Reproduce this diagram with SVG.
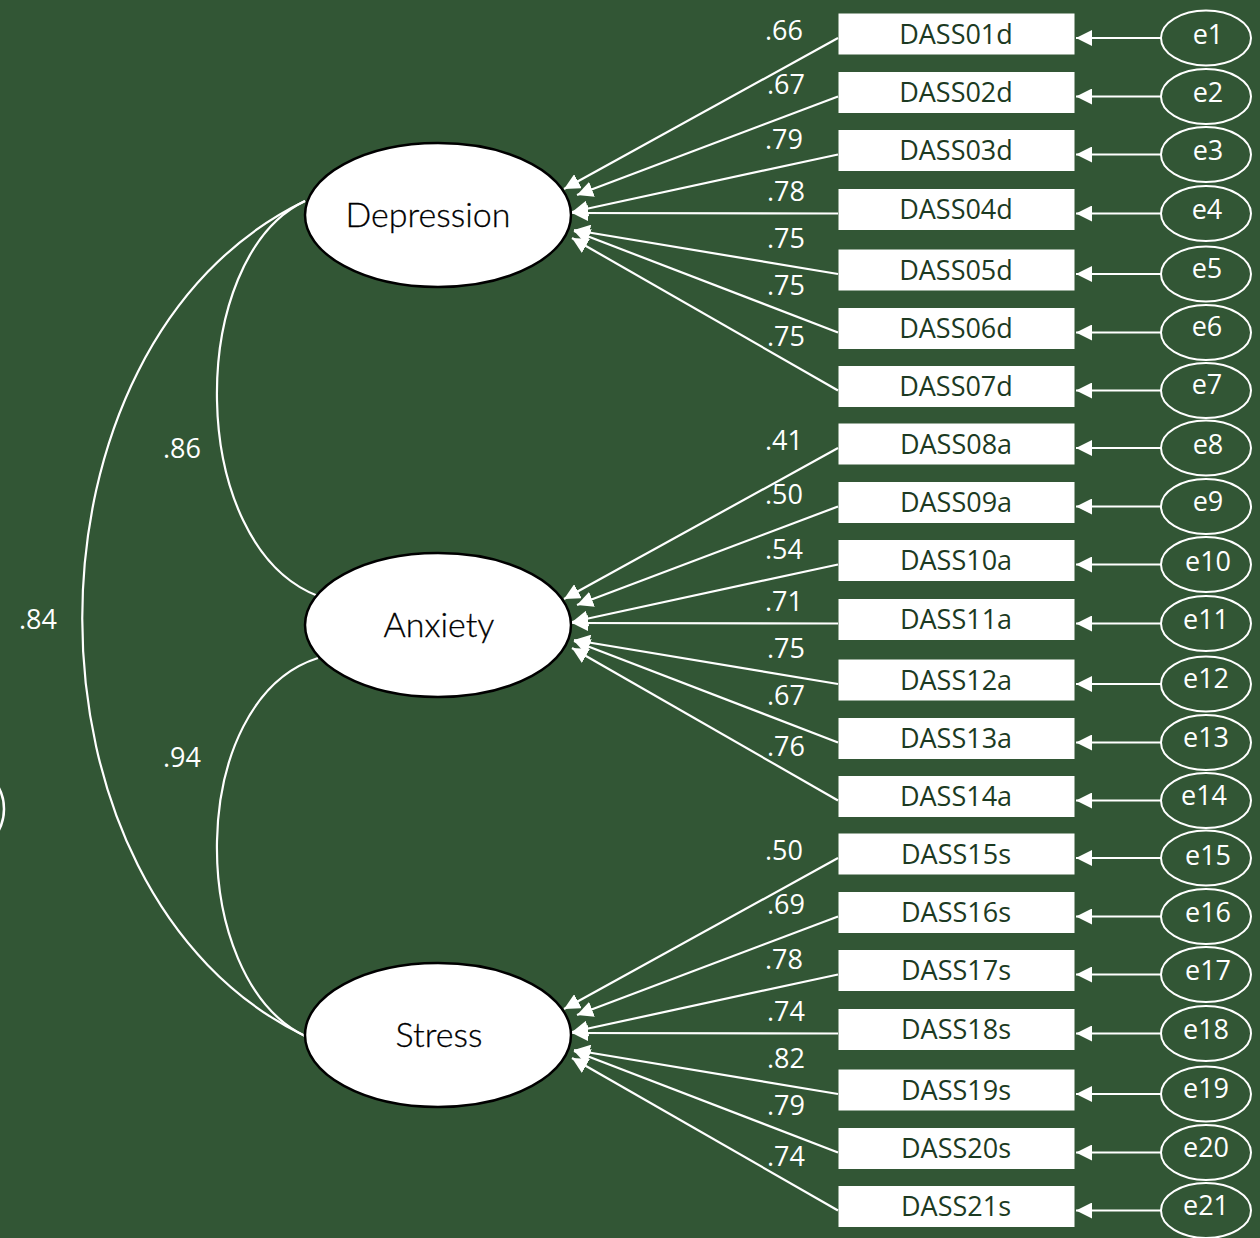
<svg xmlns="http://www.w3.org/2000/svg" width="1260" height="1238" viewBox="0 0 1260 1238">
<defs>
<marker id="ah" markerUnits="userSpaceOnUse" markerWidth="18" markerHeight="16" refX="16" refY="8" orient="auto"><path d="M0,0 L16,8 L0,16 z" fill="#fff"/></marker>
<style>
.bg{fill:#325635}
.box{fill:#fff}
.bt{font-family:"Open Sans","Liberation Sans",sans-serif;font-size:27px;fill:#1c3a22;text-anchor:middle}
.et{font-family:"Open Sans","Liberation Sans",sans-serif;font-size:27px;fill:#fff;text-anchor:middle}
.err{fill:none;stroke:#fff;stroke-width:2}
.lat{fill:#fff;stroke:#000;stroke-width:2.5}
.lt{font-family:Lato,"Liberation Sans",sans-serif;font-weight:300;font-size:34px;fill:#000;stroke:#000;stroke-width:0.3;text-anchor:middle}
.num{font-family:"Open Sans","Liberation Sans",sans-serif;font-size:27px;fill:#fff;text-anchor:middle}
.ln{stroke:#fff;stroke-width:2.2;fill:none}
.arr{stroke:#fff;stroke-width:2.2;fill:none;marker-end:url(#ah)}
</style>
</defs>
<rect class="bg" x="0" y="0" width="1260" height="1238"/>
<circle cx="-41" cy="809" r="45" fill="none" stroke="#fff" stroke-width="2.5"/>

<g id="connectors">
<path class="ln" d="M305,201 C185.5,258 185.5,544.5 318,596"/>
<path class="ln" d="M318,658 C185.5,700 185.5,978 305,1036"/>
<path class="ln" d="M305,201 C8,344 8,893 305,1036"/>
<!-- Depression loadings -->
<line class="arr" x1="838" y1="38" x2="564" y2="189"/>
<line class="arr" x1="838" y1="96.5" x2="577" y2="195"/>
<line class="arr" x1="838" y1="154.5" x2="572" y2="212"/>
<line class="arr" x1="838" y1="213.5" x2="572" y2="213"/>
<line class="arr" x1="838" y1="274" x2="574" y2="230"/>
<line class="arr" x1="838" y1="332.5" x2="574" y2="231"/>
<line class="arr" x1="838" y1="390.5" x2="572" y2="238"/>
<!-- Anxiety loadings -->
<line class="arr" x1="838" y1="448" x2="564" y2="599"/>
<line class="arr" x1="838" y1="506.5" x2="577" y2="605"/>
<line class="arr" x1="838" y1="564.5" x2="572" y2="622"/>
<line class="arr" x1="838" y1="623.5" x2="572" y2="623"/>
<line class="arr" x1="838" y1="684" x2="574" y2="640"/>
<line class="arr" x1="838" y1="742.5" x2="574" y2="641"/>
<line class="arr" x1="838" y1="800.5" x2="572" y2="648"/>
<!-- Stress loadings -->
<line class="arr" x1="838" y1="858" x2="564" y2="1009"/>
<line class="arr" x1="838" y1="916.5" x2="577" y2="1015"/>
<line class="arr" x1="838" y1="974.5" x2="572" y2="1032"/>
<line class="arr" x1="838" y1="1033.5" x2="572" y2="1033"/>
<line class="arr" x1="838" y1="1094" x2="574" y2="1050"/>
<line class="arr" x1="838" y1="1152.5" x2="574" y2="1051"/>
<line class="arr" x1="838" y1="1210.5" x2="572" y2="1058"/>
<!-- error arrows -->
<line class="arr" x1="1161" y1="38" x2="1076" y2="38"/>
<line class="arr" x1="1161" y1="96.5" x2="1076" y2="96.5"/>
<line class="arr" x1="1161" y1="154.5" x2="1076" y2="154.5"/>
<line class="arr" x1="1161" y1="213.5" x2="1076" y2="213.5"/>
<line class="arr" x1="1161" y1="274" x2="1076" y2="274"/>
<line class="arr" x1="1161" y1="332.5" x2="1076" y2="332.5"/>
<line class="arr" x1="1161" y1="390.5" x2="1076" y2="390.5"/>
<line class="arr" x1="1161" y1="448" x2="1076" y2="448"/>
<line class="arr" x1="1161" y1="506.5" x2="1076" y2="506.5"/>
<line class="arr" x1="1161" y1="564.5" x2="1076" y2="564.5"/>
<line class="arr" x1="1161" y1="623.5" x2="1076" y2="623.5"/>
<line class="arr" x1="1161" y1="684" x2="1076" y2="684"/>
<line class="arr" x1="1161" y1="742.5" x2="1076" y2="742.5"/>
<line class="arr" x1="1161" y1="800.5" x2="1076" y2="800.5"/>
<line class="arr" x1="1161" y1="858" x2="1076" y2="858"/>
<line class="arr" x1="1161" y1="916.5" x2="1076" y2="916.5"/>
<line class="arr" x1="1161" y1="974.5" x2="1076" y2="974.5"/>
<line class="arr" x1="1161" y1="1033.5" x2="1076" y2="1033.5"/>
<line class="arr" x1="1161" y1="1094" x2="1076" y2="1094"/>
<line class="arr" x1="1161" y1="1152.5" x2="1076" y2="1152.5"/>
<line class="arr" x1="1161" y1="1210.5" x2="1076" y2="1210.5"/>
</g>

<g id="labels">
<text class="num" x="38" y="629">.84</text>
<text class="num" x="182" y="458">.86</text>
<text class="num" x="182" y="767">.94</text>
<text class="num" x="784" y="39.5">.66</text>
<text class="num" x="786" y="93.5">.67</text>
<text class="num" x="784" y="148.5">.79</text>
<text class="num" x="786" y="201">.78</text>
<text class="num" x="786" y="248">.75</text>
<text class="num" x="786" y="295">.75</text>
<text class="num" x="786" y="346">.75</text>
<text class="num" x="784" y="449.5">.41</text>
<text class="num" x="784" y="503.5">.50</text>
<text class="num" x="784" y="558.5">.54</text>
<text class="num" x="784" y="611">.71</text>
<text class="num" x="786" y="658">.75</text>
<text class="num" x="786" y="705">.67</text>
<text class="num" x="786" y="756">.76</text>
<text class="num" x="784" y="859.5">.50</text>
<text class="num" x="786" y="913.5">.69</text>
<text class="num" x="784" y="968.5">.78</text>
<text class="num" x="786" y="1021">.74</text>
<text class="num" x="786" y="1068">.82</text>
<text class="num" x="786" y="1115">.79</text>
<text class="num" x="786" y="1166">.74</text>
</g>

<g id="Depression"><ellipse class="lat" cx="438" cy="215" rx="133" ry="72"/><text class="lt" x="428" y="227">Depression</text></g>
<g id="Anxiety"><ellipse class="lat" cx="438" cy="625" rx="133" ry="72"/><text class="lt" x="439" y="637">Anxiety</text></g>
<g id="Stress"><ellipse class="lat" cx="438" cy="1035" rx="133" ry="72"/><text class="lt" x="439" y="1047">Stress</text></g>

<g id="DASS01d"><rect class="box" x="838.5" y="13.5" width="236" height="41"/><text class="bt" x="956" y="43.5">DASS01d</text></g>
<g id="DASS02d"><rect class="box" x="838.5" y="72" width="236" height="41"/><text class="bt" x="956" y="102">DASS02d</text></g>
<g id="DASS03d"><rect class="box" x="838.5" y="130" width="236" height="41"/><text class="bt" x="956" y="160">DASS03d</text></g>
<g id="DASS04d"><rect class="box" x="838.5" y="189" width="236" height="41"/><text class="bt" x="956" y="219">DASS04d</text></g>
<g id="DASS05d"><rect class="box" x="838.5" y="249.5" width="236" height="41"/><text class="bt" x="956" y="279.5">DASS05d</text></g>
<g id="DASS06d"><rect class="box" x="838.5" y="308" width="236" height="41"/><text class="bt" x="956" y="338">DASS06d</text></g>
<g id="DASS07d"><rect class="box" x="838.5" y="366" width="236" height="41"/><text class="bt" x="956" y="396">DASS07d</text></g>
<g id="DASS08a"><rect class="box" x="838.5" y="423.5" width="236" height="41"/><text class="bt" x="956" y="453.5">DASS08a</text></g>
<g id="DASS09a"><rect class="box" x="838.5" y="482" width="236" height="41"/><text class="bt" x="956" y="512">DASS09a</text></g>
<g id="DASS10a"><rect class="box" x="838.5" y="540" width="236" height="41"/><text class="bt" x="956" y="570">DASS10a</text></g>
<g id="DASS11a"><rect class="box" x="838.5" y="599" width="236" height="41"/><text class="bt" x="956" y="629">DASS11a</text></g>
<g id="DASS12a"><rect class="box" x="838.5" y="659.5" width="236" height="41"/><text class="bt" x="956" y="689.5">DASS12a</text></g>
<g id="DASS13a"><rect class="box" x="838.5" y="718" width="236" height="41"/><text class="bt" x="956" y="748">DASS13a</text></g>
<g id="DASS14a"><rect class="box" x="838.5" y="776" width="236" height="41"/><text class="bt" x="956" y="806">DASS14a</text></g>
<g id="DASS15s"><rect class="box" x="838.5" y="833.5" width="236" height="41"/><text class="bt" x="956" y="863.5">DASS15s</text></g>
<g id="DASS16s"><rect class="box" x="838.5" y="892" width="236" height="41"/><text class="bt" x="956" y="922">DASS16s</text></g>
<g id="DASS17s"><rect class="box" x="838.5" y="950" width="236" height="41"/><text class="bt" x="956" y="980">DASS17s</text></g>
<g id="DASS18s"><rect class="box" x="838.5" y="1009" width="236" height="41"/><text class="bt" x="956" y="1039">DASS18s</text></g>
<g id="DASS19s"><rect class="box" x="838.5" y="1069.5" width="236" height="41"/><text class="bt" x="956" y="1099.5">DASS19s</text></g>
<g id="DASS20s"><rect class="box" x="838.5" y="1128" width="236" height="41"/><text class="bt" x="956" y="1158">DASS20s</text></g>
<g id="DASS21s"><rect class="box" x="838.5" y="1186" width="236" height="41"/><text class="bt" x="956" y="1216">DASS21s</text></g>

<g id="e1"><ellipse class="err" cx="1206" cy="38" rx="45" ry="27.5"/><text class="et" x="1208" y="43.5">e1</text></g>
<g id="e2"><ellipse class="err" cx="1206" cy="96.5" rx="45" ry="27.5"/><text class="et" x="1208" y="102">e2</text></g>
<g id="e3"><ellipse class="err" cx="1206" cy="154.5" rx="45" ry="27.5"/><text class="et" x="1208" y="160">e3</text></g>
<g id="e4"><ellipse class="err" cx="1206" cy="213.5" rx="45" ry="27.5"/><text class="et" x="1207" y="219">e4</text></g>
<g id="e5"><ellipse class="err" cx="1206" cy="274" rx="45" ry="27.5"/><text class="et" x="1207" y="278">e5</text></g>
<g id="e6"><ellipse class="err" cx="1206" cy="332.5" rx="45" ry="27.5"/><text class="et" x="1207" y="336">e6</text></g>
<g id="e7"><ellipse class="err" cx="1206" cy="390.5" rx="45" ry="27.5"/><text class="et" x="1207" y="394">e7</text></g>
<g id="e8"><ellipse class="err" cx="1206" cy="448" rx="45" ry="27.5"/><text class="et" x="1208" y="454">e8</text></g>
<g id="e9"><ellipse class="err" cx="1206" cy="506.5" rx="45" ry="27.5"/><text class="et" x="1208" y="511">e9</text></g>
<g id="e10"><ellipse class="err" cx="1206" cy="564.5" rx="45" ry="27.5"/><text class="et" x="1208" y="571">e10</text></g>
<g id="e11"><ellipse class="err" cx="1206" cy="623.5" rx="45" ry="27.5"/><text class="et" x="1206" y="629">e11</text></g>
<g id="e12"><ellipse class="err" cx="1206" cy="684" rx="45" ry="27.5"/><text class="et" x="1206" y="688">e12</text></g>
<g id="e13"><ellipse class="err" cx="1206" cy="742.5" rx="45" ry="27.5"/><text class="et" x="1206" y="747">e13</text></g>
<g id="e14"><ellipse class="err" cx="1206" cy="800.5" rx="45" ry="27.5"/><text class="et" x="1204" y="805">e14</text></g>
<g id="e15"><ellipse class="err" cx="1206" cy="858" rx="45" ry="27.5"/><text class="et" x="1208" y="865">e15</text></g>
<g id="e16"><ellipse class="err" cx="1206" cy="916.5" rx="45" ry="27.5"/><text class="et" x="1208" y="922">e16</text></g>
<g id="e17"><ellipse class="err" cx="1206" cy="974.5" rx="45" ry="27.5"/><text class="et" x="1208" y="980">e17</text></g>
<g id="e18"><ellipse class="err" cx="1206" cy="1033.5" rx="45" ry="27.5"/><text class="et" x="1206" y="1039">e18</text></g>
<g id="e19"><ellipse class="err" cx="1206" cy="1094" rx="45" ry="27.5"/><text class="et" x="1206" y="1098">e19</text></g>
<g id="e20"><ellipse class="err" cx="1206" cy="1152.5" rx="45" ry="27.5"/><text class="et" x="1206" y="1157">e20</text></g>
<g id="e21"><ellipse class="err" cx="1206" cy="1210.5" rx="45" ry="27.5"/><text class="et" x="1206" y="1215">e21</text></g>
</svg>
